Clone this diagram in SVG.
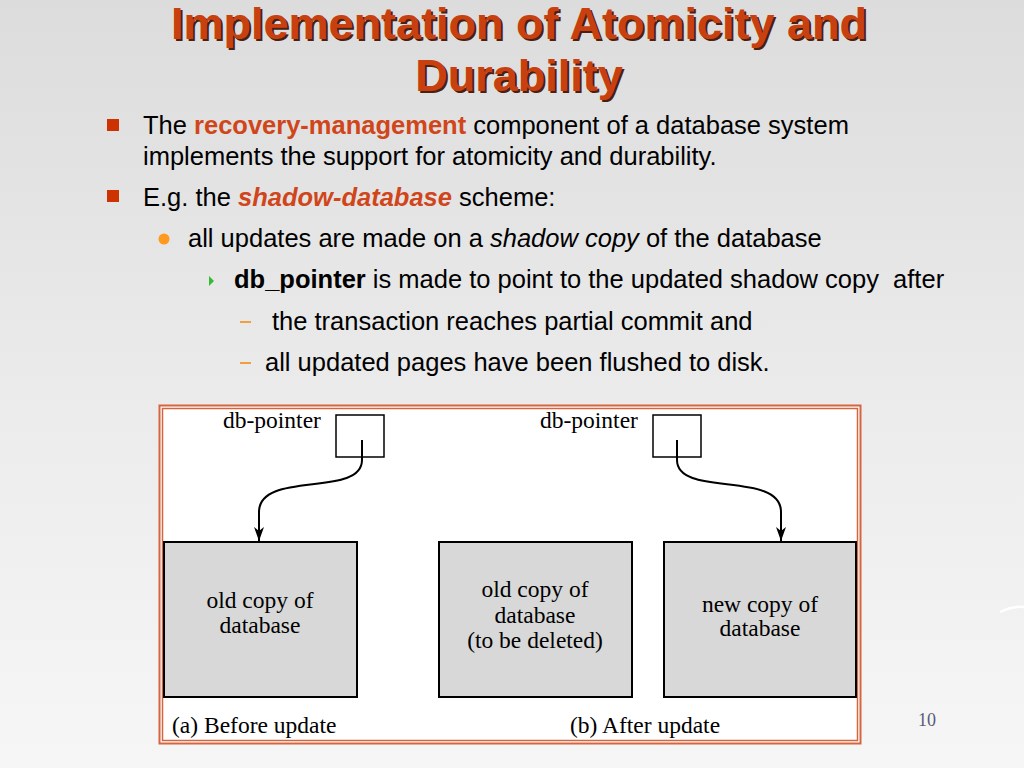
<svg xmlns="http://www.w3.org/2000/svg" width="1024" height="768" viewBox="0 0 1024 768">
<defs>
<linearGradient id="bg" x1="0" y1="0" x2="0" y2="1">
<stop offset="0" stop-color="#dcdcdc"/>
<stop offset="0.55" stop-color="#ececec"/>
<stop offset="1" stop-color="#f6f6f6"/>
</linearGradient>
<marker id="ah" markerWidth="14" markerHeight="10" refX="14" refY="5" orient="auto" markerUnits="userSpaceOnUse" viewBox="0 0 14 10">
<path d="M0,0 L14,5 L0,10 L4,5 Z" fill="#000"/>
</marker>
</defs>
<style>
.title{font-family:"Liberation Sans",Arial,sans-serif;font-weight:bold;font-size:45px;fill:#c8400f;text-anchor:middle}
.shadow{font-family:"Liberation Sans",Arial,sans-serif;font-weight:bold;font-size:45px;fill:#4a2010;text-anchor:middle}
.body{font-family:"Liberation Sans",Arial,sans-serif;font-size:25.5px;fill:#000}
.hl{fill:#d0461a;font-weight:bold}
.ser{font-family:"Liberation Serif","Times New Roman",serif;font-size:23.5px;fill:#000}
.mid{text-anchor:middle}
.box{fill:#d8d8d8;stroke:#000;stroke-width:2}
.ptr{fill:#fff;stroke:#000;stroke-width:1.5}
.conn{fill:none;stroke:#000;stroke-width:2}
</style>
<rect width="1024" height="768" fill="url(#bg)"/>
<path d="M1000,612 Q1012,606 1024,607" fill="none" stroke="#ffffff" stroke-width="2.5"/>
<g id="title">
<text class="shadow" x="521" y="41">Implementation of Atomicity and</text>
<text class="title" x="519" y="39">Implementation of Atomicity and</text>
<text class="shadow" x="521" y="93">Durability</text>
<text class="title" x="519" y="91">Durability</text>
</g>
<g id="bullets">
<rect x="107" y="119" width="12" height="12" fill="#cc3300"/>
<text class="body" x="143" y="134">The <tspan class="hl">recovery-management</tspan> component of a database system</text>
<text class="body" x="143" y="165">implements the support for atomicity and durability.</text>
<rect x="107" y="190" width="12" height="12" fill="#cc3300"/>
<text class="body" x="143" y="206">E.g. the <tspan class="hl" font-style="italic">shadow-database</tspan> scheme:</text>
<circle cx="164" cy="239" r="5.5" fill="#ff9a1f"/>
<text class="body" x="188" y="247">all updates are made on a <tspan font-style="italic">shadow copy</tspan> of the database</text>
<path d="M209,276 L214,281 L209,286 Z" fill="#33bb33"/>
<text class="body" x="234" y="288" xml:space="preserve"><tspan font-weight="bold">db_pointer</tspan> is made to point to the updated shadow copy  after</text>
<rect x="240" y="321" width="11" height="2" fill="#f0a040"/>
<text class="body" x="272" y="330">the transaction reaches partial commit and</text>
<rect x="240" y="362" width="11" height="2" fill="#f0a040"/>
<text class="body" x="265" y="371">all updated pages have been flushed to disk.</text>
</g>
<g id="frame">
<rect x="159.5" y="405.5" width="701" height="338" fill="#fff" stroke="#d4653f" stroke-width="2"/>
<rect x="162.5" y="408.5" width="695" height="332" fill="none" stroke="#d4653f" stroke-width="1.5"/>
</g>
<g id="ptr-a">
<rect class="ptr" x="336" y="415" width="48" height="42"/>
<text class="ser" x="223" y="428">db-pointer</text>
</g>
<g id="ptr-b">
<rect class="ptr" x="653" y="415" width="48" height="42"/>
<text class="ser" x="540" y="428">db-pointer</text>
</g>
<g id="db-old-a">
<rect class="box" x="164" y="542" width="193" height="155"/>
<text class="ser mid" x="260" y="608">old copy of</text>
<text class="ser mid" x="260" y="633">database</text>
</g>
<g id="db-old-b">
<rect class="box" x="439" y="542" width="193" height="155"/>
<text class="ser mid" x="535" y="597">old copy of</text>
<text class="ser mid" x="535" y="623">database</text>
<text class="ser mid" x="535" y="648">(to be deleted)</text>
</g>
<g id="db-new-b">
<rect class="box" x="664" y="542" width="192" height="155"/>
<text class="ser mid" x="760" y="612">new copy of</text>
<text class="ser mid" x="760" y="636">database</text>
</g>
<g id="captions">
<text class="ser" x="172" y="733">(a) Before update</text>
<text class="ser" x="570" y="733">(b) After update</text>
</g>
<g id="connectors">
<path class="conn" d="M362,440 V460 C362,498 259,470 259,512 V541" marker-end="url(#ah)"/>
<path class="conn" d="M677,440 V460 C677,498 781,470 781,512 V541" marker-end="url(#ah)"/>
</g>
<text x="927" y="726" font-family="Liberation Serif,serif" font-size="18" fill="#5a5a7a" text-anchor="middle">10</text>
</svg>
